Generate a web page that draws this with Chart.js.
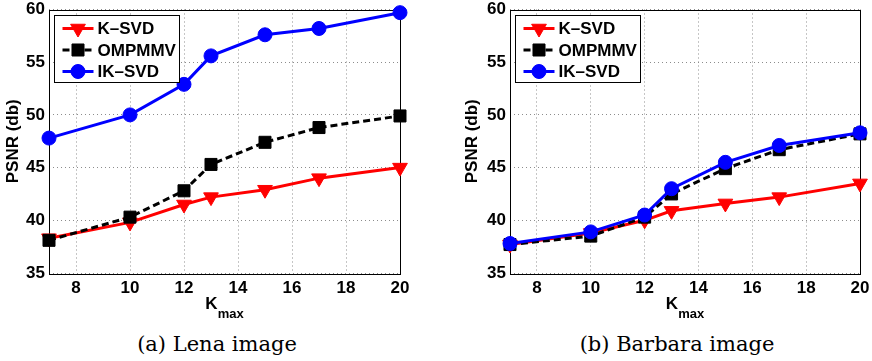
<!DOCTYPE html>
<html>
<head>
<meta charset="utf-8">
<script src="https://cdn.jsdelivr.net/npm/chart.js@4.4.0/dist/chart.umd.min.js"></script>
<style>
  body { margin: 0; background: #fff; width: 872px; height: 361px; position: relative; overflow: hidden; }
  .panel { position: absolute; top: 0; width: 436px; height: 330px; }
  .cap { position: absolute; top: 334px; font-family: "DejaVu Serif", serif; font-size: 21px; line-height: 21px;
         white-space: nowrap; transform: translateX(-50%); color: #000; }
</style>
</head>
<body>
<div class="panel" style="left:0"><canvas id="lena" width="436" height="330"></canvas></div>
<div class="panel" style="left:436px"><canvas id="barbara" width="436" height="330"></canvas></div>
<div class="cap" style="left:217px">(a) Lena image</div>
<div class="cap" style="left:677px">(b) Barbara image</div>
<script>
const kmax = [7, 10, 12, 13, 15, 17, 20];
const seriesNames = ["K–SVD", "OMPMMV", "IK–SVD"];

const lenaKsvd  = [38.3, 39.8, 41.5, 42.2, 42.9, 44.0, 45.0];
const lenaOmp   = [38.1, 40.3, 42.8, 45.3, 47.4, 48.8, 49.9];
const lenaIksvd = [47.8, 50.0, 52.9, 55.6, 57.6, 58.2, 59.7];

const barbKsvd  = [37.7, 38.8, 40.0, 40.9, 41.6, 42.2, 43.5];
const barbOmp   = [37.7, 38.5, 40.3, 42.5, 44.9, 46.7, 48.2];
const barbIksvd = [37.8, 38.9, 40.5, 43.0, 45.5, 47.1, 48.3];

const xTicks = [8, 10, 12, 14, 16, 18, 20];
const yTicks = [35, 40, 45, 50, 55, 60];

const FONT = "Arial, 'Liberation Sans', sans-serif";

// marcador dibujado a mano para la leyenda
function marcador(ctx, tipo, x, y, r, color) {
  ctx.save();
  ctx.setLineDash([]);
  ctx.fillStyle = color;
  ctx.strokeStyle = color;
  ctx.lineWidth = 1;
  ctx.beginPath();
  if (tipo === "triangle") {
    ctx.moveTo(x, y + r);
    ctx.lineTo(x - r * 0.866, y - r * 0.5);
    ctx.lineTo(x + r * 0.866, y - r * 0.5);
    ctx.closePath();
  } else if (tipo === "rect") {
    const s = r * Math.SQRT1_2;
    ctx.rect(x - s, y - s, 2 * s, 2 * s);
  } else {
    ctx.arc(x, y, r, 0, Math.PI * 2);
  }
  ctx.fill();
  ctx.stroke();
  ctx.restore();
}

const extras = {
  id: "extras",
  beforeDatasetsDraw(chart) {
    const a = chart.chartArea, ctx = chart.ctx;
    ctx.save();
    ctx.strokeStyle = "#000";
    ctx.lineWidth = 1;
    ctx.strokeRect(Math.round(a.left) + 0.5, Math.round(a.top) + 0.5,
                   Math.round(a.right - a.left), Math.round(a.bottom - a.top));
    ctx.restore();
  },
  afterDatasetsDraw(chart) {
    // leyenda dentro del área
    const a = chart.chartArea, ctx = chart.ctx;
    const bx = Math.round(a.left) + 5.5, by = Math.round(a.top) + 5.5, bw = 125, bh = 67;
    ctx.save();
    ctx.fillStyle = "#fff";
    ctx.fillRect(bx, by, bw, bh);
    ctx.strokeStyle = "#000";
    ctx.lineWidth = 1;
    ctx.strokeRect(bx, by, bw, bh);
    seriesNames.forEach((nombre, i) => {
      const ds = chart.data.datasets.find(d => d.label === nombre);
      const y = by + 13 + i * 21.5;
      ctx.save();
      ctx.strokeStyle = ds.borderColor;
      ctx.lineWidth = ds.borderWidth;
      ctx.setLineDash(ds.borderDash || []);
      ctx.beginPath();
      ctx.moveTo(bx + 8, y);
      ctx.lineTo(bx + 39, y);
      ctx.stroke();
      ctx.restore();
      marcador(ctx, ds.pointStyle, bx + 23.5, y, ds.pointRadius, ds.borderColor);
      ctx.fillStyle = "#000";
      ctx.font = "bold 17px " + FONT;
      ctx.textBaseline = "middle";
      ctx.textAlign = "left";
      ctx.fillText(nombre, bx + 43, y + 1);
    });
    ctx.restore();
  },
  afterDraw(chart) {
    // título del eje x con subíndice
    const a = chart.chartArea, ctx = chart.ctx;
    const cx = (a.left + a.right) / 2;
    ctx.save();
    ctx.fillStyle = "#000";
    ctx.textBaseline = "alphabetic";
    ctx.textAlign = "left";
    ctx.font = "bold 17px " + FONT;
    const wK = ctx.measureText("K").width;
    ctx.font = "bold 13px " + FONT;
    const wm = ctx.measureText("max").width;
    const x0 = cx - (wK + wm) / 2;
    ctx.font = "bold 17px " + FONT;
    ctx.fillText("K", x0, 309);
    ctx.font = "bold 13px " + FONT;
    ctx.fillText("max", x0 + wK, 318);
    ctx.restore();
  }
};

function serie(label, datos, color, estilo, orden, extra) {
  return Object.assign({
    label: label,
    data: kmax.map((k, i) => ({x: k, y: datos[i]})),
    borderColor: color,
    backgroundColor: color,
    borderWidth: 3,
    pointStyle: estilo,
    pointRadius: 8,
    pointBorderWidth: 1,
    pointBackgroundColor: color,
    pointBorderColor: color,
    tension: 0,
    clip: false,
    order: orden
  }, extra || {});
}

function crearGrafico(id, ks, om, ik, izq, der, padTitulo) {
  const ctx = document.getElementById(id).getContext("2d");
  return new Chart(ctx, {
    type: "line",
    data: {
      datasets: [
        serie("K–SVD", ks, "#ff0000", "triangle", 2, {pointRotation: 180, pointRadius: 8.5}),
        serie("OMPMMV", om, "#000000", "rect", 1, {borderDash: [7, 4], pointRadius: 8.5}),
        serie("IK–SVD", ik, "#0000ff", "circle", 0, {pointRadius: 7})
      ]
    },
    options: {
      responsive: false,
      animation: false,
      devicePixelRatio: 1,
      layout: { padding: { left: 0, right: 436 - der, top: 7, bottom: 0 } },
      plugins: { legend: { display: false }, tooltip: { enabled: false } },
      scales: {
        x: {
          type: "linear",
          min: 7,
          max: 20,
          afterBuildTicks: s => { s.ticks = xTicks.map(v => ({value: v})); },
          afterFit: s => { s.height = 57; s.paddingLeft = 0; s.paddingRight = 0; },
          grid: { color: "#8c8c8c", lineWidth: 1, drawTicks: false },
          border: { display: false, dash: [1, 3] },
          ticks: { color: "#000", font: { family: FONT, weight: "bold", size: 17 }, padding: 5,
                   maxRotation: 0, autoSkip: false }
        },
        y: {
          type: "linear",
          min: 35,
          max: 60,
          afterBuildTicks: s => { s.ticks = yTicks.map(v => ({value: v})); },
          afterFit: s => { s.width = izq; s.paddingTop = 0; s.paddingBottom = 0; },
          grid: { color: "#8c8c8c", lineWidth: 1, drawTicks: false },
          border: { display: false, dash: [1, 3] },
          ticks: { color: "#000", font: { family: FONT, weight: "bold", size: 17 }, padding: 4 },
          title: { display: true, text: "PSNR (db)", color: "#000",
                   font: { family: FONT, weight: "bold", size: 17 },
                   padding: { top: padTitulo, bottom: 0 } }
        }
      }
    },
    plugins: [extras]
  });
}

crearGrafico("lena", lenaKsvd, lenaOmp, lenaIksvd, 49, 400, 2.8);
crearGrafico("barbara", barbKsvd, barbOmp, barbIksvd, 74, 424, 26.5);
</script>
</body>
</html>
